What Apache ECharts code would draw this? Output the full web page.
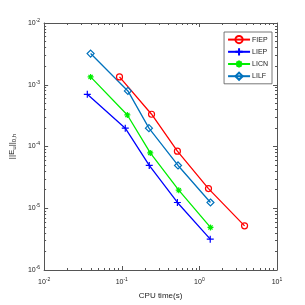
<!DOCTYPE html>
<html><head><meta charset="utf-8">
<script src="https://cdn.jsdelivr.net/npm/echarts@6/dist/echarts.min.js"></script>
<style>html,body{margin:0;padding:0;background:#fff}#c{width:305px;height:305px}</style>
</head><body><div id="c"></div>
<script>
const seriesNames = ['FIEP', 'LIEP', 'LICN', 'LILF'];
const fiepTime = [0.0935, 0.242, 0.521, 1.31, 3.82];
const fiepErr  = [1.34e-3, 3.33e-4, 8.4e-5, 2.08e-5, 5.19e-6];
const liepTime = [0.036, 0.111, 0.226, 0.521, 1.38];
const liepErr  = [7.0e-4, 1.98e-4, 4.93e-5, 1.24e-5, 3.16e-6];
const licnTime = [0.0397, 0.118, 0.233, 0.542, 1.39];
const licnErr  = [1.34e-3, 3.24e-4, 7.88e-5, 1.96e-5, 4.89e-6];
const lilfTime = [0.0397, 0.12, 0.224, 0.531, 1.39];
const lilfErr  = [3.2e-3, 7.94e-4, 1.98e-4, 4.93e-5, 1.24e-5];
const colors = ['#ff0000', '#0000ff', '#00ee00', '#0072bd'];

const plusPath = 'path://M5,0L5,10M0,5L10,5';
const starPath = 'path://M5,0L5,10M0,5L10,5M1.5,1.5L8.5,8.5M8.5,1.5L1.5,8.5';
const diamondPath = 'path://M5,0L10,5L5,10L0,5Z';

function pairs(xs, ys) { return xs.map((x, i) => [x, ys[i]]); }
function expLabel(v) {
  const e = Math.round(Math.log10(v));
  return '{b|10}{s|' + e + '}';
}
const rich = { b: { fontSize: 7, fontFamily: 'Liberation Sans', color: '#222' }, s: { fontSize: 5, fontFamily: 'Liberation Sans', color: '#222', verticalAlign: 'top', padding: [0, 0, 5, 0] } };

const axisCommon = {
  type: 'log', logBase: 10,
  axisLine: { show: true, lineStyle: { color: '#555', width: 1 } },
  axisTick: { show: true, inside: true, length: 4, lineStyle: { color: '#555' } },
  minorTick: { show: true, splitNumber: 9, length: 2, lineStyle: { color: '#555' } },
  splitLine: { show: false },
  minorSplitLine: { show: false }
};

const chart = echarts.init(document.getElementById('c'), null, { renderer: 'canvas' });
const mk = (name, xs, ys, color, symbol, size, extra) => Object.assign({
  name, type: 'line', data: pairs(xs, ys), color,
  lineStyle: { color, width: 1.3 },
  symbol, symbolSize: size,
  itemStyle: { color: 'transparent', borderColor: color, borderWidth: 1.2 },
  emphasis: { disabled: true }, animation: false
}, extra || {});

chart.setOption({
  animation: false,
  grid: { left: 40, right: 28, top: 23, bottom: 35 },
  xAxis: [
    Object.assign({}, axisCommon, {
      min: 0.01, max: 10, position: 'bottom',
      name: 'CPU time(s)', nameLocation: 'middle', nameGap: 22,
      nameTextStyle: { fontSize: 8, fontFamily: 'Liberation Sans', color: '#222' },
      axisLabel: { formatter: expLabel, rich, margin: 7, showMinLabel: true, showMaxLabel: true }
    }),
    Object.assign({}, axisCommon, {
      min: 0.01, max: 10, position: 'top', axisLabel: { show: false }
    })
  ],
  yAxis: [
    Object.assign({}, axisCommon, {
      min: 1e-6, max: 1e-2, position: 'left',
      name: '{n|||E}{sub|u}{n|||}{sub|0,h}', nameLocation: 'middle', nameGap: 25, nameRotate: 90,
      nameTextStyle: { rich: { n: { fontSize: 8, fontFamily: 'Liberation Sans', color: '#222' }, sub: { fontSize: 6, fontFamily: 'Liberation Sans', color: '#222', verticalAlign: 'bottom', padding: [4, 0, 0, 0] } } },
      axisLabel: { formatter: expLabel, rich, margin: 4, showMinLabel: true, showMaxLabel: true }
    }),
    Object.assign({}, axisCommon, {
      min: 1e-6, max: 1e-2, position: 'right', axisLabel: { show: false }
    })
  ],
  legend: {
    right: 33, top: 32, orient: 'vertical', itemGap: 3, itemWidth: 22, itemHeight: 9,
    padding: [3, 4, 3, 3], borderColor: '#555', borderWidth: 0.8, backgroundColor: '#fff',
    textStyle: { fontSize: 7, fontFamily: 'Liberation Sans', color: '#222', padding: [0, 0, 0, -3] },
    data: seriesNames
  },
  series: [
    mk('FIEP', fiepTime, fiepErr, colors[0], 'circle', 6),
    mk('LIEP', liepTime, liepErr, colors[1], plusPath, 7),
    mk('LICN', licnTime, licnErr, colors[2], starPath, 6, { itemStyle: { color: colors[2], borderColor: colors[2], borderWidth: 1.2 } }),
    mk('LILF', lilfTime, lilfErr, colors[3], diamondPath, 7)
  ]
});
</script></body></html>
